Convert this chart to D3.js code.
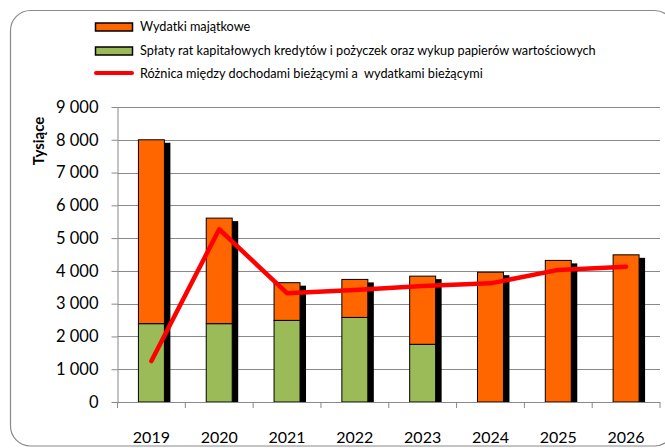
<!DOCTYPE html>
<html>
<head>
<meta charset="utf-8">
<script src="https://cdn.jsdelivr.net/npm/d3@7"></script>
<style>
    body { margin: 0; background: #fff; }
    svg { display: block; font-family: Lato, 'Open Sans', sans-serif; }
</style>
</head>
<body>
<svg id="chart"></svg>
<script>
const years = ['2019', '2020', '2021', '2022', '2023', '2024', '2025', '2026'];
const splaty = [2390, 2390, 2490, 2580, 1760, 0, 0, 0];
const wydatki = [5610, 3220, 1150, 1160, 2080, 3960, 4320, 4490];
const roznica = [1250, 5270, 3320, 3420, 3540, 3620, 4030, 4130];
const yTicks = [0, 1000, 2000, 3000, 4000, 5000, 6000, 7000, 8000, 9000];
const legendLabels = [
    'Wydatki majątkowe',
    'Spłaty rat kapitałowych kredytów i pożyczek oraz wykup papierów wartościowych',
    'Różnica między dochodami bieżącymi a  wydatkami bieżącymi'
];

const width = 665, height = 448;
const margin = { left: 117.5, right: 5, top: 107, bottom: 46 };
const orange = '#ff6600', green = '#9bbb59', red = '#ff0000', gridColor = '#898989';

const svg = d3.select('#chart')
    .attr('width', width)
    .attr('height', height);

// outer frame
svg.append('rect')
    .attr('x', 10.5).attr('y', 10.5)
    .attr('width', 664).attr('height', 435.5)
    .attr('rx', 20)
    .attr('fill', 'none')
    .attr('stroke', '#8a8a8a')
    .attr('stroke-width', 1.2);

const x = d3.scaleBand()
    .domain(years)
    .range([margin.left, width - margin.right])
    .paddingInner(0.617)
    .paddingOuter(0.3085);

const y = d3.scaleLinear()
    .domain([0, 9000])
    .range([height - margin.bottom, margin.top]);

const fmt = d3.formatLocale({ decimal: ',', thousands: ' ', grouping: [3], currency: ['', ''] }).format(',d');

// gridlines
svg.append('g')
    .selectAll('line')
    .data(yTicks.slice(1))
    .enter()
    .append('line')
    .attr('x1', margin.left).attr('x2', width - margin.right)
    .attr('y1', d => Math.round(y(d)) + 0.5).attr('y2', d => Math.round(y(d)) + 0.5)
    .attr('stroke', gridColor)
    .attr('stroke-width', 1);

// y axis
const yAxis = svg.append('g')
    .attr('transform', `translate(${margin.left},0)`)
    .call(d3.axisLeft(y).tickValues(yTicks).tickFormat(fmt).tickSizeInner(6).tickSizeOuter(0).tickPadding(13));
yAxis.select('.domain').attr('stroke', gridColor);
yAxis.selectAll('.tick line').attr('stroke', gridColor);
yAxis.selectAll('.tick text')
    .attr('font-family', 'Lato, sans-serif')
    .attr('font-size', 16.5)
    .attr('fill', '#000');

svg.append('text')
    .attr('transform', 'translate(44,141) rotate(-90)')
    .attr('text-anchor', 'middle')
    .attr('font-size', 15)
    .attr('font-weight', 'bold')
    .attr('fill', '#000')
    .text('Tysiące');

// bars: shadow first, then stacked segments
const step = x.step();
const bars = svg.append('g');

bars.selectAll('rect.shadow')
    .data(years)
    .enter()
    .append('rect')
    .attr('class', 'shadow')
    .attr('x', d => x(d) + 6)
    .attr('y', (d, i) => y(splaty[i] + wydatki[i]) + 3)
    .attr('width', x.bandwidth())
    .attr('height', (d, i) => y(0) - y(splaty[i] + wydatki[i]) - 3)
    .attr('fill', '#000');

bars.selectAll('rect.splaty')
    .data(years.filter((d, i) => splaty[i] > 0))
    .enter()
    .append('rect')
    .attr('class', 'splaty')
    .attr('x', d => x(d))
    .attr('y', d => y(splaty[years.indexOf(d)]))
    .attr('width', x.bandwidth())
    .attr('height', d => y(0) - y(splaty[years.indexOf(d)]))
    .attr('fill', green)
    .attr('stroke', '#000')
    .attr('stroke-width', 1);

bars.selectAll('rect.wydatki')
    .data(years)
    .enter()
    .append('rect')
    .attr('class', 'wydatki')
    .attr('x', d => x(d))
    .attr('y', (d, i) => y(splaty[i] + wydatki[i]))
    .attr('width', x.bandwidth())
    .attr('height', (d, i) => y(splaty[i]) - y(splaty[i] + wydatki[i]))
    .attr('fill', orange)
    .attr('stroke', '#000')
    .attr('stroke-width', 1);

// x axis
const baseY = y(0);
svg.append('line')
    .attr('x1', margin.left).attr('x2', width - margin.right)
    .attr('y1', Math.round(baseY) + 0.5).attr('y2', Math.round(baseY) + 0.5)
    .attr('stroke', gridColor);

svg.append('g')
    .selectAll('line')
    .data(d3.range(years.length + 1))
    .enter()
    .append('line')
    .attr('x1', i => margin.left + i * step).attr('x2', i => margin.left + i * step)
    .attr('y1', baseY).attr('y2', baseY + 6)
    .attr('stroke', gridColor);

svg.append('g')
    .selectAll('text')
    .data(years)
    .enter()
    .append('text')
    .attr('x', d => x(d) + x.bandwidth() / 2)
    .attr('y', 443)
    .attr('text-anchor', 'middle')
    .attr('font-size', 16)
    .attr('fill', '#000')
    .text(d => d);

// line
const line = d3.line()
    .x((d, i) => x(years[i]) + x.bandwidth() / 2)
    .y(d => y(d));

svg.append('path')
    .datum(roznica)
    .attr('d', line)
    .attr('fill', 'none')
    .attr('stroke', red)
    .attr('stroke-width', 4.5)
    .attr('stroke-linejoin', 'round')
    .attr('stroke-linecap', 'round');

// legend
const legend = svg.append('g');
const rowY = [27, 51, 74];

legend.append('rect')
    .attr('x', 95.5).attr('y', rowY[0] - 4)
    .attr('width', 37).attr('height', 8)
    .attr('fill', orange).attr('stroke', '#000').attr('stroke-width', 1.5);
legend.append('rect')
    .attr('x', 95.5).attr('y', rowY[1] - 4)
    .attr('width', 37).attr('height', 8)
    .attr('fill', green).attr('stroke', '#000').attr('stroke-width', 1.5);
legend.append('line')
    .attr('x1', 96).attr('x2', 132)
    .attr('y1', rowY[2] - 1).attr('y2', rowY[2] - 1)
    .attr('stroke', red).attr('stroke-width', 4).attr('stroke-linecap', 'round');

legend.selectAll('text')
    .data(legendLabels)
    .enter()
    .append('text')
    .attr('x', 140)
    .attr('y', (d, i) => rowY[i])
    .attr('dy', '0.35em')
    .attr('font-size', 12.7)
    .attr('fill', '#000')
    .style('white-space', 'pre')
    .text(d => d);
</script>
</body>
</html>
